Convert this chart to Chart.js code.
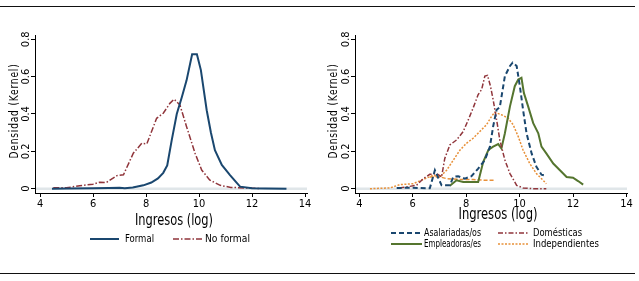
<!DOCTYPE html>
<html><head><meta charset="utf-8">
<script src="https://cdn.jsdelivr.net/npm/chart.js@4/dist/chart.umd.min.js"></script>
<style>
html,body{margin:0;padding:0;background:#fff;width:639px;height:281px;overflow:hidden}
#l{position:absolute;left:0;top:0}
#r{position:absolute;left:320px;top:0}
.rule{position:absolute;left:0;width:635px;height:1px;background:#111}
</style></head><body>
<div class="rule" style="top:6px"></div>
<div class="rule" style="top:273px"></div>
<canvas id="l" width="320" height="281"></canvas>
<canvas id="r" width="319" height="281"></canvas>
<script>
// ---- data ----
const xTicks = [4, 6, 8, 10, 12, 14];
const yTicks = [0, 0.2, 0.4, 0.6, 0.8];
const xTitle = 'Ingresos (log)';
const yTitle = 'Densidad (Kernel)';

const formalX = [4.45,5.0,6.0,6.6,7.0,7.2,7.5,7.9,8.2,8.45,8.65,8.8,8.97,9.16,9.35,9.53,9.74,9.92,10.07,10.29,10.45,10.6,10.86,11.17,11.4,11.55,12.0,12.5,13.3];
const formalY = [0.000,0.001,0.002,0.004,0.005,0.002,0.006,0.018,0.033,0.055,0.085,0.125,0.26,0.40,0.49,0.58,0.72,0.72,0.635,0.42,0.30,0.206,0.127,0.073,0.035,0.011,0.003,0.001,0.000];

const noFormalX = [4.5,5.0,5.5,6.0,6.25,6.5,6.9,7.15,7.52,7.84,8.03,8.4,8.65,8.9,9.06,9.28,9.53,9.85,10.1,10.4,10.8,11.2,11.9,12.3];
const noFormalY = [0.005,0.005,0.016,0.024,0.035,0.033,0.07,0.075,0.19,0.243,0.24,0.377,0.404,0.457,0.479,0.448,0.332,0.19,0.10,0.047,0.018,0.007,0.003,0.001];

const asalX = [5.4,6.0,6.64,6.83,7.08,7.39,7.52,7.70,7.95,8.2,8.45,8.7,8.89,9.01,9.14,9.26,9.45,9.64,9.74,9.89,10.01,10.13,10.26,10.45,10.63,10.82,11.0];
const asalY = [0.004,0.005,0.002,0.099,0.018,0.018,0.063,0.067,0.054,0.067,0.108,0.153,0.225,0.333,0.423,0.437,0.603,0.657,0.675,0.657,0.549,0.423,0.297,0.189,0.117,0.075,0.068];

const domX = [5.5,6.14,6.4,6.64,6.9,7.08,7.2,7.39,7.64,7.89,8.08,8.26,8.45,8.58,8.7,8.8,8.91,9.01,9.14,9.26,9.45,9.64,9.89,10.13,10.5,11.0];
const domY = [0.004,0.018,0.054,0.077,0.081,0.063,0.162,0.234,0.261,0.306,0.369,0.432,0.504,0.531,0.603,0.607,0.549,0.477,0.369,0.261,0.153,0.081,0.018,0.004,0.0,0.0];

const empX = [7.39,7.64,7.89,8.2,8.45,8.64,8.83,9.01,9.2,9.32,9.45,9.64,9.82,9.95,10.07,10.16,10.32,10.51,10.7,10.82,11.0,11.26,11.51,11.76,12.0,12.19,12.38];
const empY = [0.016,0.045,0.036,0.036,0.036,0.144,0.207,0.225,0.239,0.216,0.297,0.441,0.549,0.585,0.594,0.513,0.441,0.351,0.297,0.225,0.189,0.135,0.099,0.063,0.059,0.041,0.022];

const indX = [4.4,5.15,5.52,6.02,6.4,6.77,7.02,7.27,7.52,7.77,8.01,8.26,8.51,8.76,8.95,9.07,9.32,9.57,9.76,9.95,10.13,10.38,10.63,10.88,11.0];
const indY = [0.0,0.004,0.022,0.027,0.05,0.072,0.063,0.099,0.153,0.207,0.243,0.27,0.306,0.342,0.387,0.409,0.396,0.378,0.342,0.279,0.207,0.135,0.081,0.045,0.027];

const ind2X = [6.64,7.02,7.27,7.77,8.26,8.76,9.07];
const ind2Y = [0.063,0.063,0.054,0.05,0.049,0.045,0.045];

// ---- styles ----
const NAVY = '#1a476f', MAROON = '#90353b', GREEN = '#55752f', ORANGE = '#e8913a';
const FF = "'DejaVu Sans Condensed','Liberation Sans Narrow','Liberation Sans',sans-serif";

function pts(xs, ys) { return xs.map((x, i) => ({x: x, y: ys[i]})); }
function ds(label, xs, ys, color, width, dash) {
  return {label, data: pts(xs, ys), borderColor: color, backgroundColor: color, borderWidth: width,
    borderDash: dash, pointRadius: 0, tension: 0, fill: false};
}

const zeroLine = {
  id: 'zeroLine',
  beforeDatasetsDraw(chart) {
    const {ctx, chartArea, scales} = chart;
    const y = scales.y.getPixelForValue(0);
    ctx.save();
    ctx.strokeStyle = '#e0e6e9'; ctx.lineWidth = 2.5;
    ctx.beginPath(); ctx.moveTo(chartArea.left + 1, y); ctx.lineTo(chartArea.right, y); ctx.stroke();
    ctx.restore();
  }
};

function fitText(ctx, text, x, y, w, align) {
  const m = ctx.measureText(text).width;
  const s = w / m;
  ctx.save();
  ctx.translate(x, y);
  ctx.scale(s, 1);
  ctx.textAlign = align; ctx.textBaseline = 'middle';
  ctx.fillText(text, 0, 0);
  ctx.restore();
}

const deco = {
  id: 'deco',
  afterDraw(chart, args, o) {
    const ctx = chart.ctx;
    ctx.save();
    ctx.fillStyle = '#000';
    ctx.font = '16px ' + FF;
    fitText(ctx, xTitle, o.xt[0], o.xt[1], o.xt[2], 'center');
    ctx.save();
    ctx.translate(o.yt[0], o.yt[1]);
    ctx.rotate(-Math.PI / 2);
    ctx.font = '12px ' + FF;
    if ('letterSpacing' in ctx) ctx.letterSpacing = '1px';
    fitText(ctx, yTitle, 0, 0, o.yt[2], 'center');
    ctx.restore();
    ctx.font = '11px ' + FF;
    o.legend.forEach(e => {
      const d = chart.data.datasets[e.i];
      ctx.save();
      ctx.strokeStyle = d.borderColor; ctx.lineWidth = d.borderWidth;
      ctx.setLineDash(d.borderDash || []);
      ctx.beginPath(); ctx.moveTo(e.l1, e.y); ctx.lineTo(e.l2, e.y); ctx.stroke();
      ctx.restore();
      fitText(ctx, d.label, e.tx, e.y, e.w, 'left');
    });
    ctx.restore();
  }
};

function makeOpts(xmin, xmax, rightPad, decoOpts) {
  return {
    responsive: false, animation: false,
    layout: {padding: {left: 0, top: 35, right: rightPad, bottom: 0}},
    plugins: {legend: {display: false}, tooltip: {enabled: false}, deco: decoOpts},
    scales: {
      x: {
        type: 'linear', min: xmin, max: xmax,
        afterBuildTicks: s => { s.ticks = xTicks.map(v => ({value: v})); },
        afterFit: s => { s.height = 88; },
        grid: {display: true, drawOnChartArea: false, drawTicks: true, tickLength: 4, color: '#000', lineWidth: 1},
        border: {display: true, color: '#000', width: 1},
        ticks: {color: '#000', font: {family: FF, size: 11}, padding: 1, maxRotation: 0, autoSkip: false}
      },
      y: {
        type: 'linear', min: -0.023, max: 0.823,
        afterBuildTicks: s => { s.ticks = yTicks.map(v => ({value: v})); },
        afterFit: s => { s.width = 35; },
        grid: {display: true, drawOnChartArea: false, drawTicks: true, tickLength: 4, color: '#000', lineWidth: 1},
        border: {display: true, color: '#000', width: 1},
        ticks: {color: '#000', font: {family: FF, size: 11}, minRotation: 90, maxRotation: 90,
          crossAlign: 'center', padding: -3.5, autoSkip: false,
          callback: v => String(v)}
      }
    }
  };
}

new Chart(document.getElementById('l'), {
  type: 'line',
  data: {datasets: [
    ds('Formal', formalX, formalY, NAVY, 2, []),
    ds('No formal', noFormalX, noFormalY, MAROON, 1.5, [6, 2, 1.5, 2])
  ]},
  options: makeOpts(3.81, 14.075, 13, {
    xt: [174, 221, 78], yt: [15, 111, 95],
    legend: [
      {i: 0, l1: 90, l2: 119, tx: 125, y: 239, w: 29},
      {i: 1, l1: 173, l2: 203, tx: 205, y: 239, w: 45}
    ]
  }),
  plugins: [zeroLine, deco]
});

new Chart(document.getElementById('r'), {
  type: 'line',
  data: {datasets: [
    ds('Asalariadas/os', asalX, asalY, NAVY, 2, [5, 3]),
    ds('Domésticas', domX, domY, MAROON, 1.5, [5, 2, 1.5, 2]),
    ds('Empleadoras/es', empX, empY, GREEN, 2, []),
    ds('Independientes', indX, indY, ORANGE, 1.5, [2, 1.5]),
    ds('', ind2X, ind2Y, ORANGE, 1.5, [4, 2])
  ]},
  options: makeOpts(3.84, 14.02, 12, {
    xt: [178, 215, 79], yt: [14, 111, 95],
    legend: [
      {i: 0, l1: 71, l2: 102, tx: 104, y: 233, w: 57},
      {i: 1, l1: 178, l2: 209, tx: 213, y: 233, w: 49},
      {i: 2, l1: 71, l2: 102, tx: 104, y: 244, w: 57},
      {i: 3, l1: 178, l2: 209, tx: 213, y: 244, w: 66}
    ]
  }),
  plugins: [zeroLine, deco]
});
</script>
</body></html>
